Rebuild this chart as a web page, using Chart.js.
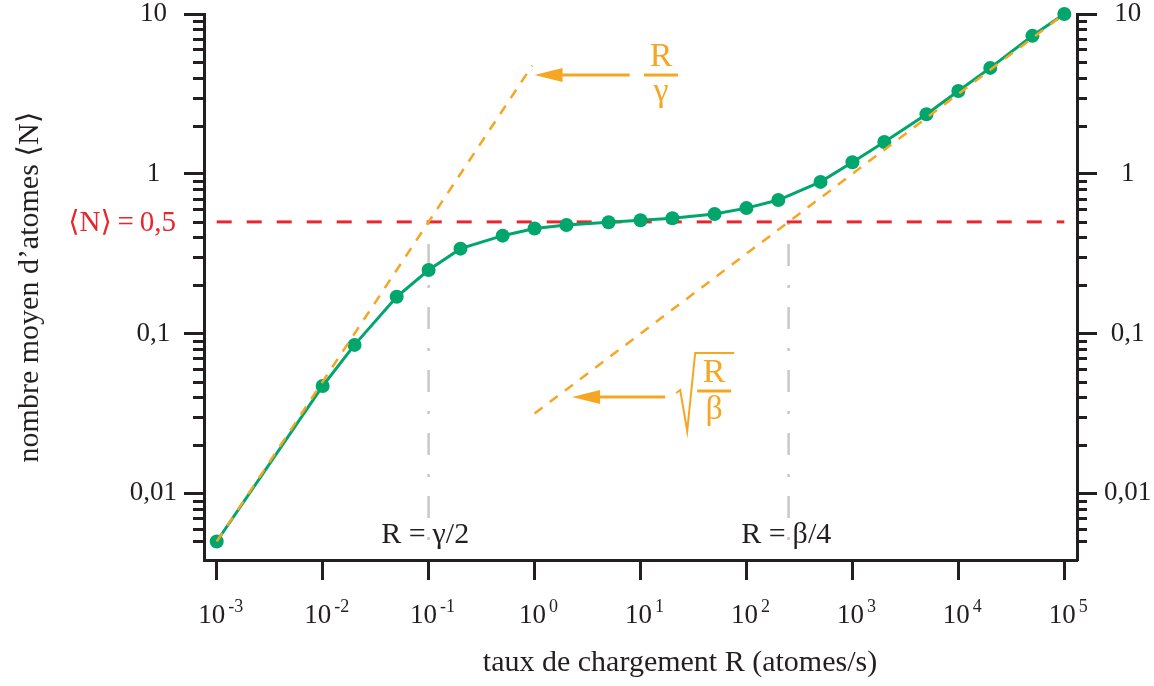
<!DOCTYPE html>
<html>
<head>
<meta charset="utf-8">
<script src="https://cdn.jsdelivr.net/npm/chart.js@4.4.1/dist/chart.umd.min.js"></script>
<style>
  body { margin: 0; background: #fff; }
  #wrap { width: 1154px; height: 686px; }
</style>
</head>
<body>
<div id="wrap"><canvas id="myChart"></canvas></div>
<script>
// measured loading curve
const rates = [0.001, 0.01, 0.02, 0.05, 0.1, 0.2, 0.5, 1, 2, 5, 10, 20, 50, 100, 200, 500, 1000, 2000, 5000, 10000, 20000, 50000, 100000];
const atoms = [0.005, 0.047, 0.085, 0.17, 0.25, 0.34, 0.41, 0.455, 0.478, 0.498, 0.512, 0.527, 0.56, 0.61, 0.685, 0.89, 1.18, 1.58, 2.36, 3.3, 4.6, 7.3, 10];

// asymptotes R/gamma and sqrt(R/beta)
const lowRateX = [0.001, 0.95];
const lowRateY = [0.005, 4.75];
const highRateX = [1, 100000];
const highRateY = [0.0316, 10];

// <N> = 0,5 level and the two markers
const limitLevel = 0.5;
const limitX = [0.001, 100000];
const gammaMark = 0.1;
const betaMark = 250;
const markBottom = 0.0047;

// axes
const xTicks = [0.001, 0.01, 0.1, 1, 10, 100, 1000, 10000, 100000];
const xExps = ["-3", "-2", "-1", "0", "1", "2", "3", "4", "5"];
const yTicks = [0.01, 0.1, 1, 10];
const yLabels = ["0,01", "0,1", "1", "10"];
const yMinor = [0.005, 0.006, 0.007, 0.008, 0.009,
  0.02, 0.03, 0.04, 0.05, 0.06, 0.07, 0.08, 0.09,
  0.2, 0.3, 0.4, 0.5, 0.6, 0.7, 0.8, 0.9,
  2, 3, 4, 5, 6, 7, 8, 9];

const ink = "#231f20";
const green = "#00a66c";
const orange = "#f5a623";
const red = "#e8262d";
const grey = "#c8c8c8";
const serif = "'Liberation Serif', 'DejaVu Serif', serif";

const pts = (xs, ys) => xs.map((v, i) => ({ x: v, y: ys[i] }));

const setTicks = (list) => (scale) => {
  scale.ticks = list.map((v) => ({ value: v }));
};

const yLabel = (value) => {
  const i = yTicks.findIndex((t) => Math.abs(t - value) / t < 1e-6);
  return i >= 0 ? yLabels[i] : "";
};

//annotations drawn on top
const annotate = {
  id: "annotate",
  afterDraw(chart) {
    const { ctx, chartArea, scales } = chart;
    const x = scales.x;
    const y = scales.y;
    ctx.save();

    // minor ticks on both y axes
    ctx.strokeStyle = ink;
    ctx.lineWidth = 3;
    yMinor.forEach((v) => {
      const py = Math.round(y.getPixelForValue(v)) + 0.5;
      ctx.beginPath();
      ctx.moveTo(chartArea.left - 11, py);
      ctx.lineTo(chartArea.left, py);
      ctx.moveTo(chartArea.right, py);
      ctx.lineTo(chartArea.right + 10, py);
      ctx.stroke();
    });

    // x tick labels 10^n
    ctx.fillStyle = ink;
    ctx.textBaseline = "alphabetic";
    ctx.textAlign = "left";
    xTicks.forEach((v, i) => {
      const px = x.getPixelForValue(v);
      ctx.font = "27px " + serif;
      const wb = ctx.measureText("10").width;
      ctx.font = "18px " + serif;
      const we = ctx.measureText(xExps[i]).width;
      const start = px + 4 - (wb + 3 + we) / 2;
      ctx.font = "27px " + serif;
      ctx.fillText("10", start, 623);
      ctx.font = "18px " + serif;
      ctx.fillText(xExps[i], start + wb + 3, 612);
    });

    // x axis title
    ctx.font = "30px " + serif;
    ctx.textAlign = "center";
    ctx.fillText("taux de chargement R (atomes/s)", 680, 671);

    // marker labels
    ctx.font = "30px " + serif;
    const baseY = y.getPixelForValue(markBottom) - 3;
    [[gammaMark, "γ/2"], [betaMark, "β/4"]].forEach(([v, txt]) => {
      const px = x.getPixelForValue(v);
      ctx.textAlign = "right";
      ctx.fillText("R =", px - 3, baseY);
      ctx.textAlign = "left";
      ctx.fillText(txt, px + 4, baseY);
    });

    // red level label
    ctx.fillStyle = red;
    ctx.textAlign = "right";
    ctx.font = "29px " + serif;
    ctx.fillText("⟨N⟩\u2009=\u20090,5", chartArea.left - 28, y.getPixelForValue(limitLevel) + 9);

    // arrows
    const arrow = (x0, x1, py) => {
      ctx.strokeStyle = orange;
      ctx.fillStyle = orange;
      ctx.lineWidth = 3;
      ctx.beginPath();
      ctx.moveTo(x0, py);
      ctx.lineTo(x1 + 20, py);
      ctx.stroke();
      ctx.beginPath();
      ctx.moveTo(x1, py);
      ctx.lineTo(x1 + 28, py - 7);
      ctx.lineTo(x1 + 28, py + 7);
      ctx.closePath();
      ctx.fill();
    };

    // R / gamma
    const a1y = y.getPixelForValue(4.15);
    arrow(x.getPixelForValue(7.9), x.getPixelForValue(1.0), a1y);
    const f1 = x.getPixelForValue(15.6);
    ctx.fillRect(f1 - 17, a1y - 1.5, 34, 3);
    ctx.font = "34px " + serif;
    ctx.textAlign = "center";
    ctx.fillText("R", f1, a1y - 9);
    ctx.fillText("γ", f1, a1y + 26);

    // sqrt(R / beta)
    const a2y = y.getPixelForValue(0.0401);
    const ax = x.getPixelForValue(17.1);
    arrow(ax, x.getPixelForValue(2.26), a2y);
    ctx.lineWidth = 2;
    ctx.beginPath();
    ctx.moveTo(ax + 11, a2y - 4);
    ctx.lineTo(ax + 15, a2y - 7);
    ctx.lineTo(ax + 22, a2y + 34);
    ctx.lineTo(ax + 30, a2y - 44);
    ctx.lineTo(ax + 69, a2y - 44);
    ctx.stroke();
    ctx.fillRect(ax + 32, a2y - 7.5, 34, 3);
    ctx.fillText("R", ax + 49, a2y - 15);
    ctx.fillText("β", ax + 49, a2y + 22);

    ctx.restore();
  },
};

const ctx = document.getElementById("myChart").getContext("2d");
const myChart = new Chart(ctx, {
  type: "line",
  data: {
    datasets: [
      {
        label: "R = γ/2",
        data: pts([gammaMark, gammaMark], [limitLevel, markBottom]),
        borderColor: grey,
        borderWidth: 2.5,
        borderDash: [3, 19, 22, 19],
        pointRadius: 0,
        order: 5,
      },
      {
        label: "R = β/4",
        data: pts([betaMark, betaMark], [limitLevel, markBottom]),
        borderColor: grey,
        borderWidth: 2.5,
        borderDash: [3, 19, 22, 19],
        pointRadius: 0,
        order: 5,
      },
      {
        label: "<N> = 0,5",
        data: pts(limitX, [limitLevel, limitLevel]),
        borderColor: red,
        borderWidth: 3,
        borderDash: [15, 15],
        pointRadius: 0,
        order: 4,
      },
      {
        label: "<N>",
        data: pts(rates, atoms),
        borderColor: green,
        borderWidth: 3,
        pointRadius: 7,
        pointBackgroundColor: green,
        pointBorderWidth: 0,
        clip: false,
        order: 2,
      },
      {
        label: "R/γ",
        data: pts(lowRateX, lowRateY),
        borderColor: orange,
        borderWidth: 2.5,
        borderDash: [10, 9],
        pointRadius: 0,
        clip: false,
        order: 1,
      },
      {
        label: "sqrt(R/β)",
        data: pts(highRateX, highRateY),
        borderColor: orange,
        borderWidth: 2.5,
        borderDash: [10, 9],
        pointRadius: 0,
        clip: false,
        order: 1,
      },
    ],
  },
  options: {
    responsive: true,
    maintainAspectRatio: false,
    animation: false,
    layout: { padding: { top: 14, left: 0, right: 0, bottom: 0 } },
    plugins: {
      legend: { display: false },
      tooltip: { enabled: false },
    },
    scales: {
      x: {
        type: "logarithmic",
        min: 7.586e-4,
        max: 1.318e5,
        afterBuildTicks: setTicks(xTicks),
        afterFit: (scale) => { scale.height = 126; },
        ticks: { display: false },
        grid: {
          display: true,
          drawOnChartArea: false,
          drawTicks: true,
          tickLength: 20,
          tickWidth: 3,
          tickColor: ink,
        },
        border: { display: true, width: 3, color: ink },
      },
      y: {
        type: "logarithmic",
        position: "left",
        min: 0.00383,
        max: 10,
        afterBuildTicks: setTicks(yTicks),
        afterFit: (scale) => { scale.width = 204; scale.paddingTop = 0; scale.paddingBottom = 0; },
        ticks: {
          callback: yLabel,
          crossAlign: "center",
          padding: 7,
          color: ink,
          font: { family: serif, size: 27, lineHeight: 0.4 },
        },
        grid: {
          display: true,
          drawOnChartArea: false,
          drawTicks: true,
          tickLength: 20,
          tickWidth: 3,
          tickColor: ink,
        },
        border: { display: true, width: 3, color: ink },
        title: {
          display: true,
          text: "nombre moyen d’atomes ⟨N⟩",
          color: ink,
          font: { family: serif, size: 30 },
          padding: { top: 12, bottom: 0 },
        },
      },
      y2: {
        type: "logarithmic",
        position: "right",
        min: 0.00383,
        max: 10,
        afterBuildTicks: setTicks(yTicks),
        afterFit: (scale) => { scale.width = 77; scale.paddingTop = 0; scale.paddingBottom = 0; },
        ticks: {
          callback: yLabel,
          crossAlign: "center",
          padding: 7,
          color: ink,
          font: { family: serif, size: 27, lineHeight: 0.4 },
        },
        grid: {
          display: true,
          drawOnChartArea: false,
          drawTicks: true,
          tickLength: 20,
          tickWidth: 3,
          tickColor: ink,
        },
        border: { display: true, width: 3, color: ink },
      },
    },
  },
  plugins: [annotate],
});
</script>
</body>
</html>
